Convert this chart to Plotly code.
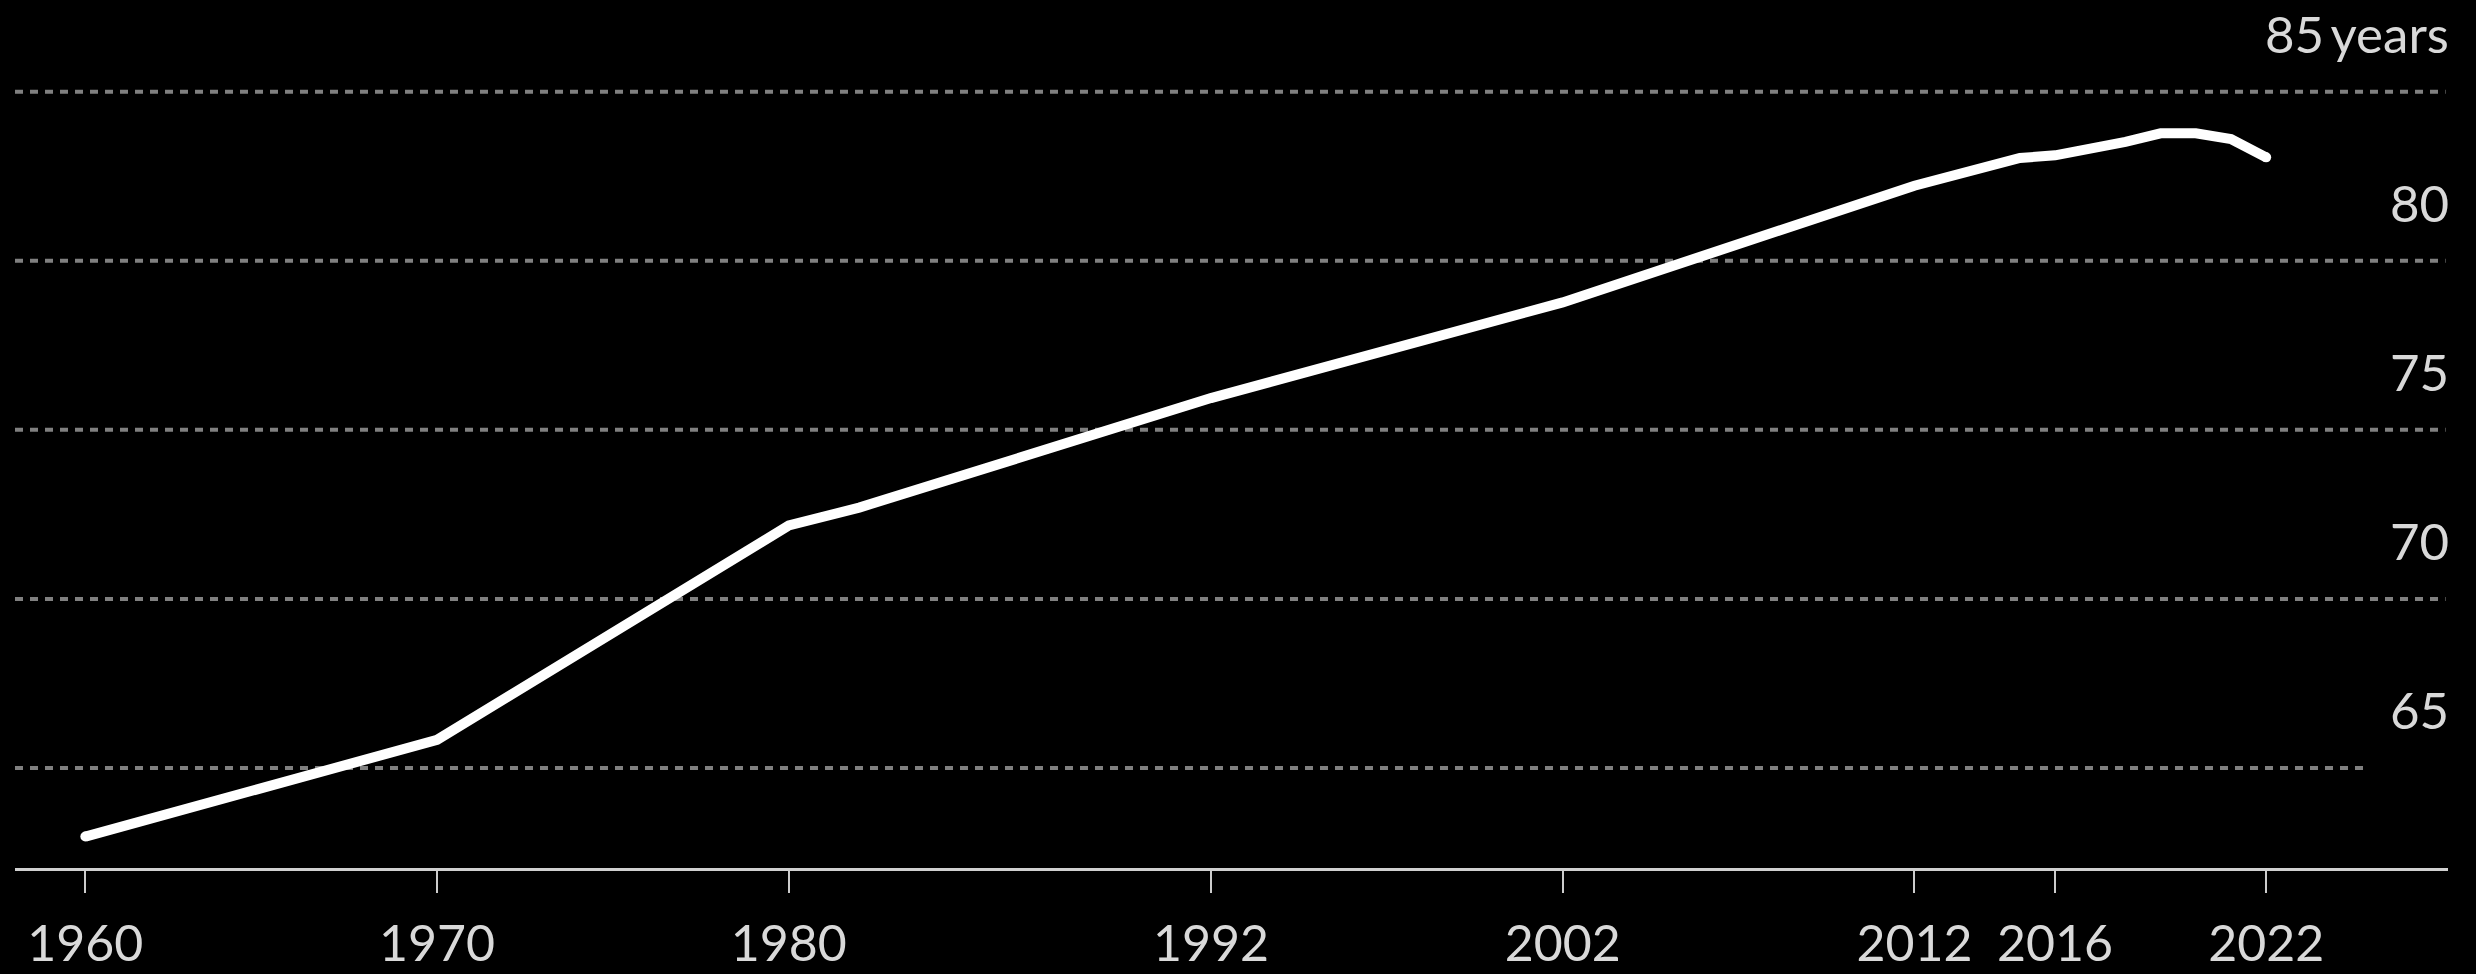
import plotly.graph_objects as go

# ---- data ----
years = [1960, 1970, 1980, 1982, 1992, 2002, 2012, 2013, 2014, 2015,
         2016, 2017, 2018, 2019, 2020, 2021, 2022]
life_exp = [62.97, 65.83, 72.17, 72.7, 75.94, 78.77, 82.22, 82.5, 82.76, 83.04,
            83.12, 83.3, 83.52, 83.77, 83.77, 83.6, 83.06]

x_tick_vals = [1960, 1970, 1980, 1992, 2002, 2012, 2016, 2022]
x_tick_text = ["1960", "1970", "1980", "1992", "2002", "2012", "2016", "2022"]
y_levels = [65, 70, 75, 80, 85]
y_labels = ["65", "70", "75", "80", "85\u2009years"]

FONT = "Lato"
TXT = "#d9d9d9"
GRID = "#808080"

fig = go.Figure()
fig.add_trace(go.Scatter(
    x=years, y=life_exp, mode="lines",
    line=dict(color="#ffffff", width=10),
    hoverinfo="skip", showlegend=False,
))
# round caps at both ends
fig.add_trace(go.Scatter(
    x=[years[0], years[-1]], y=[life_exp[0], life_exp[-1]], mode="markers",
    marker=dict(color="#ffffff", size=10, line=dict(width=0)),
    hoverinfo="skip", showlegend=False,
))

shapes = []
annotations = []
for lvl, lab in zip(y_levels, y_labels):
    x1 = 2024.9 if lvl == y_levels[0] else 2027.1
    shapes.append(dict(type="line", xref="x", yref="y", x0=1958.0, x1=x1,
                       y0=lvl, y1=lvl, layer="below",
                       line=dict(color=GRID, width=4, dash="8px,7px")))
    annotations.append(dict(xref="paper", yref="y", x=1, y=lvl,
                            xanchor="right", yanchor="bottom", yshift=26, xshift=3,
                            text=lab, showarrow=False,
                            font=dict(family=FONT, size=51, color=TXT)))

fig.update_layout(
    template="none",
    width=2476, height=974,
    paper_bgcolor="#000000", plot_bgcolor="#000000",
    margin=dict(l=15, r=28, t=85, b=106, autoexpand=False),
    shapes=shapes, annotations=annotations,
    xaxis=dict(range=[1958.0, 2027.17], tickvals=x_tick_vals, ticktext=x_tick_text,
               ticks="outside", ticklen=22, tickwidth=2, tickcolor="#cccccc",
               showline=True, linecolor="#d0d0d0", linewidth=3, automargin=False,
               showgrid=False, zeroline=False, ticklabelstandoff=8,
               tickfont=dict(family=FONT, size=50, color=TXT)),
    yaxis=dict(range=[62.04, 85.2], showticklabels=False, showgrid=False,
               zeroline=False, showline=False, ticks="", automargin=False),
)

fig.write_html(
    "out.html",
    config={"displayModeBar": False},
    post_script="document.body.style.margin='0';document.body.style.background='#000';"
                "document.body.style.overflow='hidden';",
)
